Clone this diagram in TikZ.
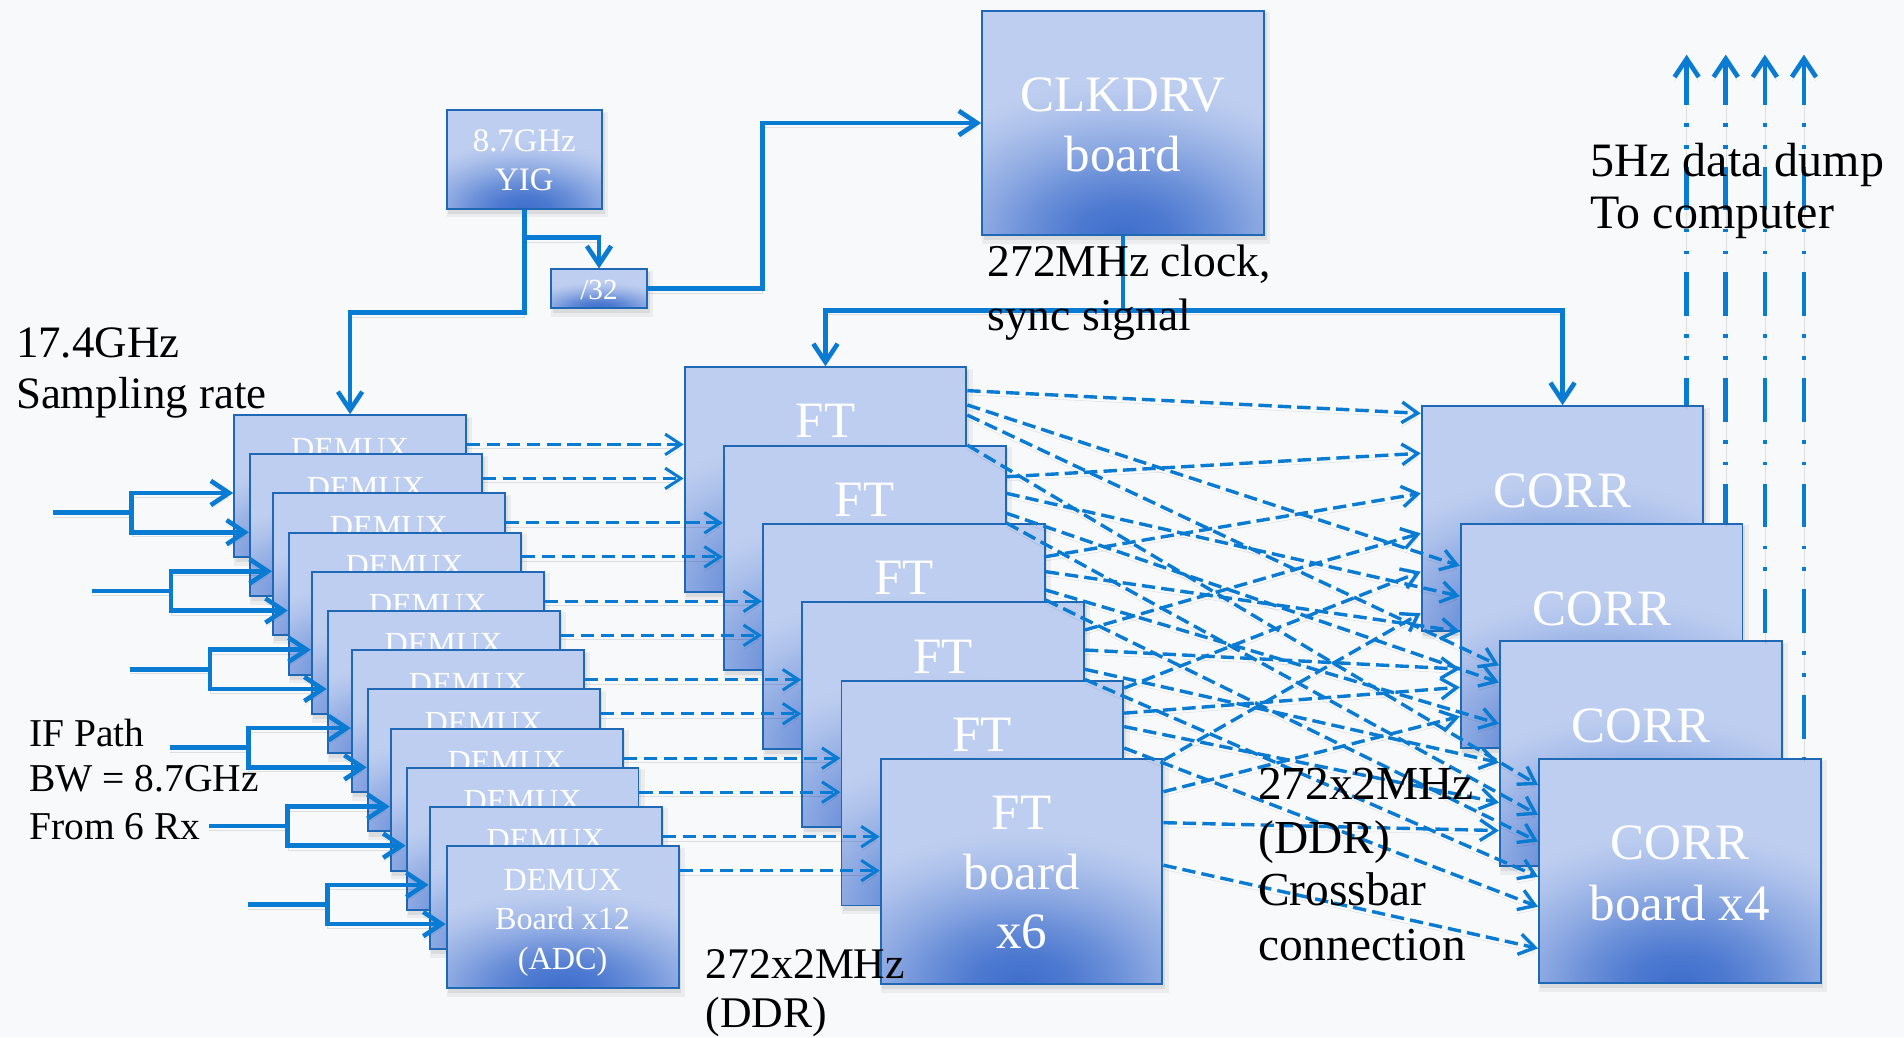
\documentclass[tikz,border=0pt]{standalone}
\usepackage{fontspec}
\setmainfont{Liberation Serif}
\usetikzlibrary{arrows.meta,calc}
\definecolor{bgc}{RGB}{248,249,251}
\definecolor{boxc}{RGB}{190,206,240}
\definecolor{bordc}{RGB}{30,104,182}
\definecolor{gradc}{RGB}{62,110,204}
\definecolor{linec}{RGB}{10,123,210}
\colorlet{gA}{gradc!88!boxc}
\colorlet{gB}{gradc!64!boxc}
\colorlet{gC}{gradc!36!boxc}
\colorlet{gD}{gradc!14!boxc}
\colorlet{gE}{gradc!3!boxc}
\pgfdeclareradialshading{boxgrad}{\pgfpoint{0bp}{0bp}}{color(0bp)=(gradc); color(3bp)=(gA); color(6bp)=(gB); color(9bp)=(gC); color(12bp)=(gD); color(14bp)=(gE); color(15bp)=(boxc); color(50bp)=(boxc)}
\newcommand\fsDemux{\fontsize{26.5}{30}\selectfont}
\newcommand\fsBig{\fontsize{42}{46}\selectfont}
\newcommand\fsYig{\fontsize{27}{30}\selectfont}
\newcommand\fsDiv{\fontsize{24}{26}\selectfont}
\newcommand\mkbox[5]{%
  \fill[black,opacity=0.05] (#2+1,#3+2) rectangle ++(#4+5,#5+6);
  \fill[black,opacity=0.07] (#2+2,#3+3) rectangle ++(#4+1,#5+2);
  \node[bx, minimum width=#4pt, minimum height=#5pt,
    path picture={\shade[shading=boxgrad]
      (path picture bounding box.south) ellipse [x radius=1.42*#4pt, y radius=1.15*#5pt];}]
    (#1) at (#2,#3) {};}
\tikzset{
  sol/.style={draw=linec, line width=3.8pt, line cap=butt, line join=miter},
  dsh/.style={draw=linec, line width=2.8pt, line cap=butt, dash pattern=on 11pt off 5pt},
  dshb/.style={draw=linec, line width=2.5pt, line cap=butt, dash pattern=on 11pt off 5.5pt},
  dump/.style={draw=linec, line width=3.8pt, line cap=butt, dash pattern=on 36pt off 15pt on 3pt off 15pt on 3pt off 15pt},
  tipS/.tip={Straight Barb[length=15pt,width=20pt]},
  tipD/.tip={Straight Barb[length=13pt,width=17pt]},
  lsh/.style={preaction={draw=black,opacity=0.10,transform canvas={yshift=-3.5pt}}},
  bx/.style={draw=bordc, line width=1.6pt, fill=boxc, anchor=north west, inner sep=0pt},
  wt/.style={text=white, inner sep=0pt, anchor=base},
  bt/.style={text=black, inner sep=0pt, anchor=base west},
}
\begin{document}
\begin{tikzpicture}[x=1pt,y=-1pt]
\fill[bgc] (0,0) rectangle (1568,854);
\useasboundingbox (0,0) rectangle (1568,854);

% ---------- boxes ----------
\mkbox{yig}{367}{90}{128}{81}
\node[wt,font=\fsYig] (yigt1) at ($(yig.north)+(0,35)$) {8.7GHz};
\node[wt,font=\fsYig] (yigt2) at ($(yig.north)+(0,66.5)$) {YIG};
\mkbox{div}{453}{221}{79}{32}
\node[wt,font=\fsDiv] (divt) at ($(div.north)+(0,25.5)$) {/32};
\mkbox{clk}{808}{8}{232}{185}
\node[wt,font=\fsBig] (clkt1) at ($(clk.north)+(0,84)$) {CLKDRV};
\node[wt,font=\fsBig] (clkt2) at ($(clk.north)+(0,133.5)$) {board};

\foreach \i/\x/\y in {1/192/341, 2/205/373.3, 3/224/405.5, 4/237/437.8, 5/256/470.1, 6/269/502.4,
  7/289/534.6, 8/302/566.9, 9/321/599.2, 10/334/631.4, 11/353/663.7}{
  \mkbox{dm\i}{\x}{\y}{191}{117}
  \node[wt,font=\fsDemux] (dmt\i) at ($(dm\i.north)+(0,37)$) {DEMUX};
}
\mkbox{dm12}{367}{696}{191}{117}
\node[wt,font=\fsDemux] (dmt12a) at ($(dm12.north)+(0,37)$) {DEMUX};
\node[wt,font=\fsDemux] (dmt12b) at ($(dm12.north)+(0,69.5)$) {Board x12};
\node[wt,font=\fsDemux] (dmt12c) at ($(dm12.north)+(0,102)$) {(ADC)};

\foreach \j/\x/\y in {1/563/301.5, 2/595.3/366.1, 3/627.6/430.7, 4/659.9/495.3, 5/692.2/559.9}{
  \mkbox{ft\j}{\x}{\y}{232}{185}
  \node[wt,font=\fsBig] (ftt\j) at ($(ft\j.north)+(0,59)$) {FT};
}
\mkbox{ft6}{724.5}{624.5}{232}{185}
\node[wt,font=\fsBig] (ftt6a) at ($(ft6.north)+(0,59)$) {FT};
\node[wt,font=\fsBig] (ftt6b) at ($(ft6.north)+(0,108)$) {board};
\node[wt,font=\fsBig] (ftt6c) at ($(ft6.north)+(0,157)$) {x6};

\foreach \k/\x/\y in {1/1170/333.6, 2/1202.2/430.4, 3/1234.4/527.2}{
  \mkbox{cr\k}{\x}{\y}{232}{185}
  \node[wt,font=\fsBig] (crt\k) at ($(cr\k.north)+(0,84.5)$) {CORR};
}
\mkbox{cr4}{1266.6}{624}{232}{185}
\node[wt,font=\fsBig] (crt4a) at ($(cr4.north)+(0,84)$) {CORR};
\node[wt,font=\fsBig] (crt4b) at ($(cr4.north)+(0,134)$) {board x4};

% ---------- clock connectors ----------
\coordinate (ya) at ($(yig.south)+(0,85)$);
\coordinate (yb) at ($(yig.south)+(0,23)$);
\draw[sol,lsh,-tipS] (yig.south) -- (ya) -| (dm1.north);
\draw[sol,lsh,-tipS] (yb) -| (div.north);
\coordinate (dv) at ($(clk.west)+(-180,0)$);
\draw[sol,lsh,-tipS] (div.east) -| (dv) -- (clk.west);
\coordinate (cb) at ($(clk.south)+(0,61)$);
\draw[sol,lsh] (clk.south) -- (cb);
\draw[sol,lsh,-tipS] (cb) -| (ft1.north);
\draw[sol,lsh,-tipS] (cb) -| (cr1.north);

% ---------- IF inputs ----------
\foreach \p/\sx/\bxx/\my/\a/\b in {1/43.4/108.5/422.2/1/2, 2/75.4/140.8/486.7/3/4,
  3/107.3/172.8/551.3/5/6, 4/139.7/204.8/615.8/7/8, 5/172/237/680.3/9/10, 6/204.4/269.5/744.9/11/12}{
  \coordinate (ins\p) at (\sx,\my);
  \coordinate (inb\p) at (\bxx,\my);
  \draw[sol,lsh] (ins\p) -- (inb\p);
  \draw[sol,lsh,-tipS] (inb\p) |- ($(dm\a.north west)+(0,65)$);
  \draw[sol,lsh,-tipS] (inb\p) |- ($(dm\b.north west)+(0,65)$);
}

% ---------- DEMUX -> FT ----------
\foreach \j/\a/\b in {1/1/2, 2/3/4, 3/5/6, 4/7/8, 5/9/10, 6/11/12}{
  \coordinate (fa\j) at ($(ft\j.north west)+(0,64.5)$);
  \coordinate (fb\j) at ($(ft\j.north west)+(0,92.5)$);
  \draw[dshb,lsh,-tipD] (dm\a.east |- fa\j) -- (fa\j);
  \draw[dshb,lsh,-tipD] (dm\b.east |- fb\j) -- (fb\j);
}

% ---------- crossbar FT -> CORR ----------
\foreach \j/\oa/\ob/\oc/\od in {1/20.2/32/40.3/65, 2/26.5/40.2/56.6/64.6, 3/27.7/40.1/55.2/63.4,
  4/23.5/40/55.9/64.2, 5/6.8/27.4/38.5/56.1, 6/1.5/27.5/53/88}{
  \coordinate (fo\j1) at ($(ft\j.north east)+(0,\oa)$);
  \coordinate (fo\j2) at ($(ft\j.north east)+(0,\ob)$);
  \coordinate (fo\j3) at ($(ft\j.north east)+(0,\oc)$);
  \coordinate (fo\j4) at ($(ft\j.north east)+(0,\od)$);
}
\foreach \k/\a/\b/\c/\d/\e/\f in {1/6.8/39.7/72.7/105.6/137.2/171.4, 2/35.6/60.6/89.6/120.6/135.6/159.6,
  3/20.8/34.8/68.8/100.8/133.8/156.8, 4/22.5/47/69/98/122.7/157}{
  \coordinate (ci\k1) at ($(cr\k.north west)+(0,\a)$);
  \coordinate (ci\k2) at ($(cr\k.north west)+(0,\b)$);
  \coordinate (ci\k3) at ($(cr\k.north west)+(0,\c)$);
  \coordinate (ci\k4) at ($(cr\k.north west)+(0,\d)$);
  \coordinate (ci\k5) at ($(cr\k.north west)+(0,\e)$);
  \coordinate (ci\k6) at ($(cr\k.north west)+(0,\f)$);
}
\foreach \j in {1,...,6}{
  \foreach \k in {1,...,4}{
    \draw[dsh,lsh,-tipD] (fo\j\k) -- (ci\k\j);
  }
}

% ---------- data dump ----------
\foreach \k/\x in {1/1389, 2/1421.2, 3/1453.4, 4/1485.6}{
  \coordinate (up\k) at (\x,45);
  \draw[dump,lsh,tipS-] (up\k) -- (cr\k.north -| up\k);
}

% ---------- labels ----------
\node[bt,font=\fontsize{37}{40}\selectfont] (lsa) at (13,294) {17.4GHz};
\node[bt,font=\fontsize{37}{40}\selectfont] (lsb) at (13,336) {Sampling rate};
\node[bt,font=\fontsize{37.5}{40}\selectfont] (lca) at (813,228) {272MHz clock,};
\node[bt,font=\fontsize{37.5}{40}\selectfont] (lcb) at (813,272) {sync signal};
\node[bt,font=\fontsize{39.5}{40}\selectfont] (lda) at (1310,145.5) {5Hz data dump};
\node[bt,font=\fontsize{39.5}{40}\selectfont] (ldb) at (1310,188) {To computer};
\node[bt,font=\fontsize{32.5}{36}\selectfont] (lia) at (24,614.5) {IF Path};
\node[bt,font=\fontsize{32.5}{36}\selectfont] (lib) at (24,652) {BW = 8.7GHz};
\node[bt,font=\fontsize{32.5}{36}\selectfont] (lic) at (24,691) {From 6 Rx};
\node[bt,font=\fontsize{36}{40}\selectfont] (lra) at (581,806) {272x2MHz};
\node[bt,font=\fontsize{36}{40}\selectfont] (lrb) at (581,846) {(DDR)};
\node[bt,font=\fontsize{39}{40}\selectfont] (lxa) at (1036,658) {272x2MHz};
\node[bt,font=\fontsize{39}{40}\selectfont] (lxb) at (1036,703) {(DDR)};
\node[bt,font=\fontsize{39}{40}\selectfont] (lxc) at (1036,746) {Crossbar};
\node[bt,font=\fontsize{39}{40}\selectfont] (lxd) at (1036,791) {connection};
\end{tikzpicture}
\end{document}
